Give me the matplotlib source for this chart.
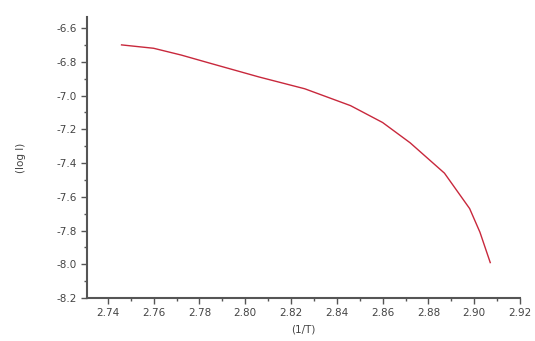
import numpy as np
import matplotlib
matplotlib.use("Agg")
import matplotlib.pyplot as plt
from matplotlib.ticker import MultipleLocator, FormatStrFormatter

# values
inv_t = [2.746, 2.760, 2.772, 2.785, 2.806, 2.826, 2.846, 2.860, 2.872, 2.887, 2.898, 2.9025, 2.907]
log_i = [-6.70, -6.72, -6.76, -6.81, -6.89, -6.96, -7.06, -7.16, -7.28, -7.46, -7.67, -7.81, -7.99]

fig = plt.figure(figsize=(5.35, 3.41), dpi=100)
ax = fig.add_axes([0.163, 0.126, 0.809, 0.824])

ax.plot(inv_t, log_i, color="#c8283c", lw=1.0)

ax.set_xlim(2.731, 2.92)
ax.set_ylim(-8.2, -6.535)
ax.xaxis.set_major_locator(MultipleLocator(0.02))
ax.xaxis.set_minor_locator(MultipleLocator(0.01))
ax.yaxis.set_major_locator(MultipleLocator(0.2))
ax.yaxis.set_minor_locator(MultipleLocator(0.1))
ax.xaxis.set_major_formatter(FormatStrFormatter("%.2f"))
ax.yaxis.set_major_formatter(FormatStrFormatter("%.1f"))

for side in ("top", "right"):
    ax.spines[side].set_visible(False)
for side in ("left", "bottom"):
    ax.spines[side].set_color("#555555")
    ax.spines[side].set_linewidth(1.5)

ax.tick_params(which="major", direction="out", length=4, width=1,
               color="#555555", labelsize=7.5, labelcolor="#444444")
ax.tick_params(which="minor", direction="out", length=2.5, width=1, color="#555555")

ax.set_xlabel("(1/T)", fontsize=7.5, color="#444444", labelpad=4)
ax.set_ylabel("(log I)", fontsize=7.5, color="#444444", labelpad=22)

fig.savefig("out.png", dpi=100)
